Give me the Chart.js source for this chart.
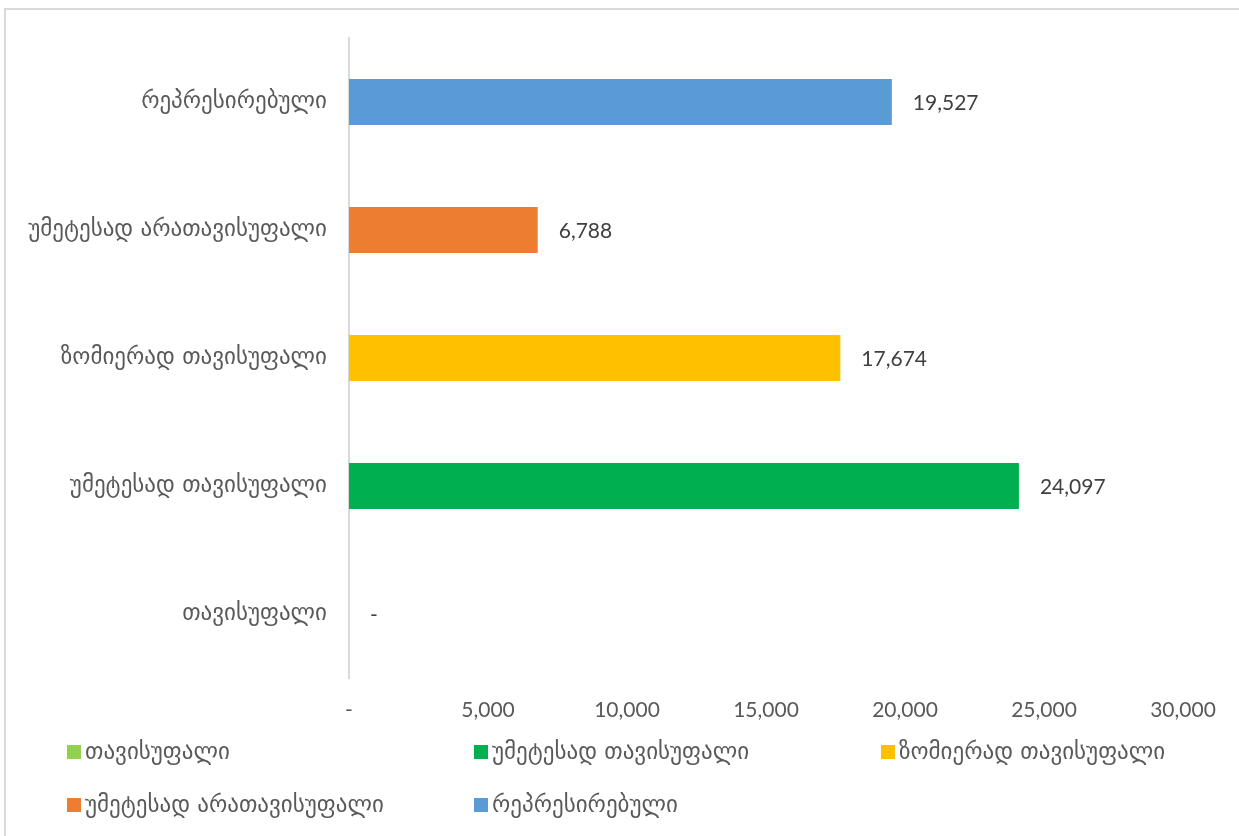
<!DOCTYPE html>
<html>
<head>
<meta charset="utf-8">
<script src="https://cdn.jsdelivr.net/npm/chart.js@4/dist/chart.umd.min.js"></script>
<style>
  html, body { margin: 0; padding: 0; background: #fff; }
  #wrap { position: relative; width: 1239px; height: 836px; overflow: hidden; }
  #frame { position: absolute; left: 4px; top: 8px; width: 1260px; height: 860px;
           border: 2px solid #d9d9d9; box-sizing: border-box; pointer-events: none; }
</style>
</head>
<body>
<div id="wrap">
  <canvas id="chart" width="1239" height="836"></canvas>
  <div id="frame"></div>
</div>
<script>
  // მონაცემები
  var categories = ["თავისუფალი", "უმეტესად თავისუფალი", "ზომიერად თავისუფალი", "უმეტესად არათავისუფალი", "რეპრესირებული"];
  var values = [0, 24097, 17674, 6788, 19527];
  var colors = ["#92d050", "#00b050", "#ffc000", "#ed7d31", "#5b9bd5"];
  var xTicks = [0, 5000, 10000, 15000, 20000, 25000, 30000];

  var geoFont = "'DejaVu Sans', sans-serif";
  var numFont = "Lato, 'Open Sans', sans-serif";

  function fmt(v) {
    return v === 0 ? "-" : v.toLocaleString("en-US");
  }

  // one dataset per category so the legend lists each one
  var datasets = categories.map(function (name, i) {
    return {
      label: name,
      data: categories.map(function (c, j) { return j === i ? values[i] : null; }),
      backgroundColor: colors[i],
      borderWidth: 0,
      grouped: false,
      barPercentage: 0.36,
      categoryPercentage: 1,
    };
  });

  // value labels next to the bars
  var valueLabels = {
    id: "valueLabels",
    afterDatasetsDraw: function (chart) {
      var ctx = chart.ctx;
      ctx.save();
      ctx.font = "21px " + numFont;
      ctx.fillStyle = "#404040";
      ctx.textAlign = "left";
      ctx.textBaseline = "middle";
      chart.data.datasets.forEach(function (ds, i) {
        var bar = chart.getDatasetMeta(i).data[i];
        ctx.fillText(fmt(ds.data[i]), bar.x + 21, bar.y + 1);
      });
      ctx.restore();
    },
  };

  // legend in fixed columns, like the original
  var gridLegend = {
    id: "gridLegend",
    afterDraw: function (chart) {
      var ctx = chart.ctx;
      var cols = [67, 474, 881];
      var rows = [752, 805];
      ctx.save();
      ctx.font = "23px " + geoFont;
      ctx.textBaseline = "middle";
      ctx.textAlign = "left";
      chart.data.datasets.forEach(function (ds, i) {
        var x = cols[i % 3];
        var y = rows[Math.floor(i / 3)];
        ctx.fillStyle = ds.backgroundColor;
        ctx.fillRect(x, y - 7, 14, 14);
        ctx.fillStyle = "#595959";
        ctx.fillText(ds.label, x + 18, y + 1);
      });
      ctx.restore();
    },
  };

  new Chart(document.getElementById("chart").getContext("2d"), {
    type: "bar",
    data: { labels: categories, datasets: datasets },
    options: {
      indexAxis: "y",
      responsive: false,
      animation: false,
      layout: { padding: { left: 0, top: 38, right: 56, bottom: 0 } },
      plugins: {
        legend: { display: false },
        tooltip: { enabled: false },
      },
      scales: {
        x: {
          min: 0,
          max: 30000,
          afterBuildTicks: function (scale) {
            scale.ticks = xTicks.map(function (v) { return { value: v }; });
          },
          afterFit: function (scale) { scale.height = 158; },
          grid: { display: false },
          border: { display: false },
          ticks: {
            padding: 12,
            color: "#595959",
            font: { family: numFont, size: 21 },
            callback: function (v) { return fmt(v); },
          },
        },
        y: {
          reverse: true,
          afterFit: function (scale) { scale.width = 349; },
          grid: { display: false },
          border: { display: true, color: "#d9d9d9", width: 2 },
          ticks: {
            padding: 14,
            color: "#595959",
            font: { family: geoFont, size: 23 },
          },
        },
      },
    },
    plugins: [valueLabels, gridLegend],
  });
</script>
</body>
</html>
